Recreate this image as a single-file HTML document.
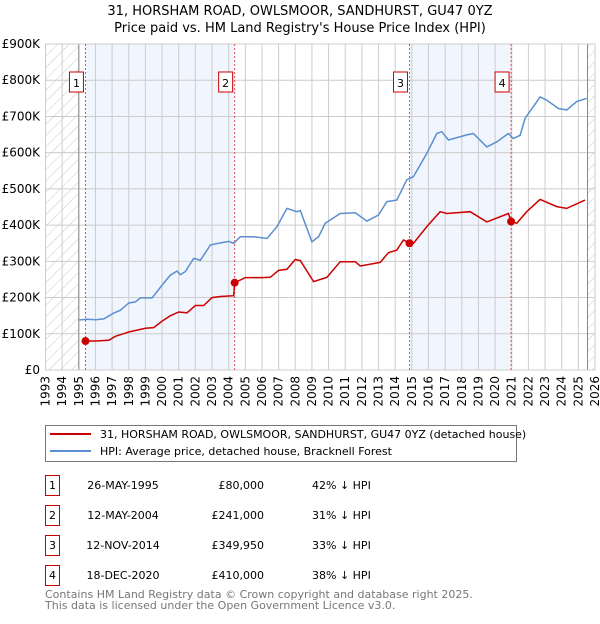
<!DOCTYPE html>
<html><head><meta charset="utf-8"><style>
body{margin:0;background:#fff;font-family:"DejaVu Sans","Liberation Sans",sans-serif;}
svg text{font-family:"DejaVu Sans","Liberation Sans",sans-serif;}
</style></head><body>
<svg id="c" width="600" height="620" xmlns="http://www.w3.org/2000/svg">
<defs><pattern id="h" width="8" height="8" patternUnits="userSpaceOnUse" patternTransform="rotate(45)"><line x1="0" y1="0" x2="0" y2="8" stroke="#bbb" stroke-width="0.8"/></pattern></defs>
<text x="300" y="15" text-anchor="middle" font-size="13">31, HORSHAM ROAD, OWLSMOOR, SANDHURST, GU47 0YZ</text>
<text x="300" y="32" text-anchor="middle" font-size="13">Price paid vs. HM Land Registry's House Price Index (HPI)</text>
<g id="plot"></g>
<g>
<rect x="45.5" y="425.5" width="471" height="36" fill="#fff" stroke="#777"/>
<line x1="50" y1="434" x2="91" y2="434" stroke="#cc0000" stroke-width="2"/>
<text x="100" y="438" font-size="11">31, HORSHAM ROAD, OWLSMOOR, SANDHURST, GU47 0YZ (detached house)</text>
<line x1="50" y1="451" x2="91" y2="451" stroke="#5b8fd0" stroke-width="2"/>
<text x="100" y="455" font-size="11">HPI: Average price, detached house, Bracknell Forest</text>
</g>
<g id="tbl" font-size="11"></g>
<text x="45" y="598" font-size="11" fill="#777">Contains HM Land Registry data © Crown copyright and database right 2025.</text>
<text x="45" y="609" font-size="11" fill="#777">This data is licensed under the Open Government Licence v3.0.</text>
</svg>
<script>
const hpiYears=[1995.0,1995.5,1996.0,1996.5,1997.1,1997.5,1998.0,1998.4,1998.7,1999.4,2000.1,2000.5,2000.9,2001.1,2001.4,2001.9,2002.3,2002.9,2003.4,2004.0,2004.3,2004.7,2005.5,2006.3,2006.9,2007.5,2008.1,2008.3,2009.0,2009.4,2009.8,2010.7,2011.6,2012.3,2013.0,2013.5,2014.1,2014.7,2015.1,2015.9,2016.5,2016.8,2017.2,2018.3,2018.7,2019.5,2020.1,2020.8,2021.1,2021.5,2021.8,2022.7,2023.1,2023.8,2024.3,2024.9,2025.5];
const hpiValues=[138,140,139,141,157,165,185,188,199,199,240,262,273,263,272,308,303,345,350,355,350,368,368,363,396,446,437,440,354,368,405,432,434,411,428,465,469,525,534,598,653,658,635,649,653,616,630,653,639,648,695,754,745,722,718,741,750];
const paidYears=[1995.4,1996.0,1996.8,1997.2,1998.0,1999.0,1999.5,2000.0,2000.5,2001.0,2001.5,2002.0,2002.5,2003.0,2003.5,2004.3,2004.36,2005.0,2006.0,2006.5,2007.0,2007.5,2008.0,2008.3,2009.1,2009.9,2010.7,2011.6,2011.9,2013.1,2013.6,2014.1,2014.5,2014.86,2015.1,2015.9,2016.7,2017.1,2018.5,2019.5,2020.8,2020.96,2021.3,2021.9,2022.7,2023.7,2024.3,2025.4];
const paidValues=[80,80,82,93,105,115,117,135,150,160,158,178,178,200,203,205,241,255,255,256,275,278,305,302,244,256,299,299,287,297,324,331,359,350,350,396,437,432,437,409,432,410,405,437,471,451,446,469];
const saleLabels=["1","2","3","4"];
const saleYears=[1995.4,2004.36,2014.86,2020.96];
const saleValues=[80,241,349.95,410];
const saleDates=["26-MAY-1995","12-MAY-2004","12-NOV-2014","18-DEC-2020"];
const salePrices=["£80,000","£241,000","£349,950","£410,000"];
const saleHpi=["42% ↓ HPI","31% ↓ HPI","33% ↓ HPI","38% ↓ HPI"];
const yTicks=[0,100,200,300,400,500,600,700,800,900];
const yTickLabels=["£0","£100K","£200K","£300K","£400K","£500K","£600K","£700K","£800K","£900K"];
const xTicks=[];for(let y=1993;y<=2026;y++)xTicks.push(y);

const L=45.5,R=595,T=44,B=370,X0=1993,X1=2026,YMAX=900;
const X=v=>L+(v-X0)*(R-L)/(X1-X0);
const Y=v=>B-v*(B-T)/YMAX;
const NS="http://www.w3.org/2000/svg";
const plot=document.getElementById('plot');
function mk(tag,attrs,parent){const e=document.createElementNS(NS,tag);for(const k in attrs)e.setAttribute(k,attrs[k]);(parent||plot).appendChild(e);return e;}

mk('rect',{x:L,y:T,width:R-L,height:B-T,fill:'#fff'});
for(let i=0;i<saleYears.length;i+=2){
 const r=mk('rect',{x:X(saleYears[i]),y:T,width:X(saleYears[i+1])-X(saleYears[i]),height:B-T,fill:'#eef3fc',opacity:0.8});
 
 
}
let hr=mk('rect',{x:L,y:T,width:X(1995)-L,height:B-T,fill:'url(#h)'});


hr=mk('rect',{x:X(2025.55),y:T,width:R-X(2025.55),height:B-T,fill:'url(#h)'});


xTicks.forEach(t=>{mk('line',{x1:X(t),x2:X(t),y1:T,y2:B,stroke:'#ccc','stroke-width':1});
 const tx=mk('text',{x:0,y:0,'font-size':12,'text-anchor':'end',transform:`translate(${X(t)+4},${B+6}) rotate(-90)`});tx.textContent=t;
 
 });
yTicks.forEach((t,i)=>{mk('line',{x1:L,x2:R,y1:Y(t),y2:Y(t),stroke:'#ccc','stroke-width':1});
 const tx=mk('text',{x:40,y:Y(t)+4,'font-size':12,'text-anchor':'end'});tx.textContent=yTickLabels[i];
 
 });
mk('line',{x1:X(1995),x2:X(1995),y1:T,y2:B,stroke:'#888'});
mk('line',{x1:X(2025.55),x2:X(2025.55),y1:T,y2:B,stroke:'#888'});
mk('rect',{x:L,y:T,width:R-L,height:B-T,fill:'none',stroke:'#ccc'});
saleYears.forEach((s,i)=>{mk('line',{x1:X(s),x2:X(s),y1:T,y2:B,stroke:'#e05050','stroke-dasharray':'2,2','stroke-width':1});
 const g=mk('g',{});
 
 
 mk('rect',{x:X(s)-16,y:72,width:14,height:20,fill:'#fff',stroke:'#cc0000'},g);
 const t=mk('text',{x:X(s)-9,y:87,'font-size':11,'text-anchor':'middle'},g);t.textContent=saleLabels[i];});
const path=(xs,vs)=>xs.map((x,i)=>(i?'L':'M')+X(x).toFixed(1)+','+Y(vs[i]).toFixed(1)).join('');
const hp=mk('path',{d:path(hpiYears,hpiValues),fill:'none',stroke:'#5b8fd0','stroke-width':1.5});


const pp=mk('path',{d:path(paidYears,paidValues),fill:'none',stroke:'#cc0000','stroke-width':1.5});


saleYears.forEach((s,i)=>{const c=mk('circle',{cx:X(s),cy:Y(saleValues[i]),r:4,fill:'#cc0000'});
 
 });
const tbl=document.getElementById('tbl');
saleLabels.forEach((l,i)=>{const y=489+i*30;
 const g=mk('g',{},tbl);
 
 
 mk('rect',{x:45.5,y:y-13.5,width:14,height:20,fill:'#fff',stroke:'#cc0000'},g);
 let t=mk('text',{x:52.5,y:y,'text-anchor':'middle'},g);t.textContent=l;
 t=mk('text',{x:123,y:y,'text-anchor':'middle'},g);t.textContent=saleDates[i];
 t=mk('text',{x:264,y:y,'text-anchor':'end'},g);t.textContent=salePrices[i];
 t=mk('text',{x:312,y:y},g);t.textContent=saleHpi[i];});
</script>
</body></html>
